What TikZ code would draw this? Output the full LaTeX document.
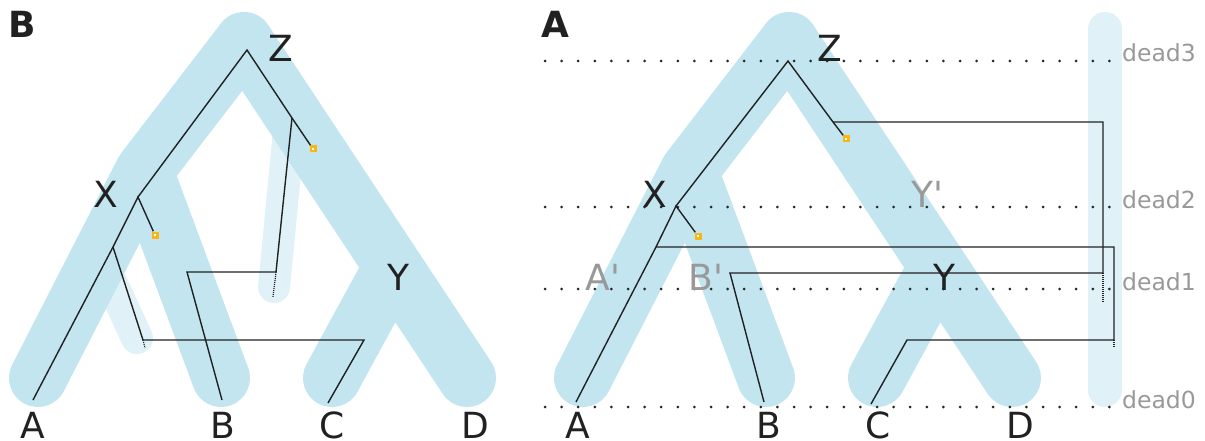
\documentclass[tikz,border=0pt]{standalone}
\usepackage{fontspec}
\setmainfont{DejaVu Sans}
\usepackage{xcolor}

\definecolor{speciesblue}{HTML}{C2E5F0}
\definecolor{lostblue}{HTML}{E0F1F8}
\definecolor{dupyellow}{HTML}{FBB616}
\definecolor{labelgray}{HTML}{999999}

\begin{document}
\begin{tikzpicture}[
    x=1pt, y=-1pt,
    species/.style={speciesblue, line width=58pt, line cap=round, line join=round},
    lost/.style={lostblue, line cap=round},
    gene/.style={black!87, line width=1.4pt},
    loose/.style={black!87, line width=1.2pt, dash pattern=on 1pt off 1pt},
    deadline/.style={black!85, line width=3pt, line cap=round, dash pattern=on 0pt off 16.6pt},
    dup/.style={fill=dupyellow, inner sep=0pt, minimum size=7pt,
        path picture={\fill[white] ([shift={(-1pt,-0.8pt)}]path picture bounding box.center)
            rectangle ([shift={(1pt,0.8pt)}]path picture bounding box.center);}},
    big/.style={font=\fontsize{36}{36}\selectfont, text=black!87, anchor=base, inner sep=0pt},
    leaf/.style={big, text depth=0pt},
    ghost/.style={big, text=labelgray},
    dead/.style={font=\fontsize{23.5}{24}\selectfont, text=labelgray, anchor=base west, inner sep=0pt}
]
    \useasboundingbox (0,0) rectangle (1205,441);

    % Lost lineages
    \draw[lost, line width=32pt] (100,258) -- (137,338);
    \draw[lost, line width=32pt] (292,100) -- (274,287);
    \draw[lost, line width=34pt] (1105,29) -- (1105,390);

    % Species tree, panel B
    \coordinate (bZ) at (244,41);
    \coordinate (bX) at (144,171);
    \coordinate (bY) at (393,266);
    \coordinate (bA) at (38,378);
    \coordinate (bB) at (221,378);
    \coordinate (bC) at (332,378);
    \coordinate (bD) at (467,378);
    \draw[species] (bA) -- (bX) -- (bZ) -- (bD) (bX) -- (bB) (bY) -- (bC);

    % Species tree, panel A
    \coordinate (aZ) at (789,41);
    \coordinate (aX) at (689,171);
    \coordinate (aY) at (938,266);
    \coordinate (aA) at (583,378);
    \coordinate (aB) at (766,378);
    \coordinate (aC) at (877,378);
    \coordinate (aD) at (1012,378);
    \draw[species] (aA) -- (aX) -- (aZ) -- (aD) (aX) -- (aB) (aY) -- (aC);

    % Time levels
    \coordinate (d3s) at (545,61);  \coordinate (d3e) at (1112,61);
    \coordinate (d2s) at (545,207); \coordinate (d2e) at (1112,207);
    \coordinate (d1s) at (545,289); \coordinate (d1e) at (1112,289);
    \coordinate (d0s) at (545,407); \coordinate (d0e) at (1112,407);
    \draw[deadline] (d3s) -- (d3e);
    \draw[deadline] (d2s) -- (d2e);
    \draw[deadline] (d1s) -- (d1e);
    \draw[deadline] (d0s) -- (d0e);
    \node[dead] (dead3) at (1122,62) {dead3};
    \node[dead] (dead2) at (1122,208) {dead2};
    \node[dead] (dead1) at (1122,290) {dead1};
    \node[dead] (dead0) at (1122,408) {dead0};

    % Gene tree, panel B
    \coordinate (bg0) at (247,50);
    \coordinate (bg1) at (138,197);
    \coordinate (bg2) at (113,247);
    \coordinate (bg3) at (292,118);
    \coordinate (bg4) at (276,272);
    \coordinate (bg4e) at (273,297);
    \coordinate (bg5) at (187,272);
    \coordinate (bg6) at (143,340);
    \coordinate (bg6e) at (145,348);
    \coordinate (bg7) at (364,340);
    \coordinate (bgA) at (33,400);
    \coordinate (bgB) at (222,400);
    \coordinate (bgC) at (328,403);
    \node[dup] (bdx) at (155,235) {};
    \node[dup] (bdz) at (313,149) {};
    \draw[gene] (bg1) -- (bg0) -- (bg3) -- (bdz);
    \draw[gene] (bg3) -- (bg4) -- (bg5) -- (bgB);
    \draw[gene] (bdx) -- (bg1) -- (bg2) -- (bgA);
    \draw[gene] (bg2) -- (bg6) -- (bg7) -- (bgC);
    \draw[loose] (bg4) -- (bg4e);
    \draw[loose] (bg6) -- (bg6e);

    % Gene tree, panel A
    \coordinate (ag0) at (788,61);
    \coordinate (ag1) at (676,206);
    \coordinate (ag2) at (656,247);
    \coordinate (ag3) at (833,122);
    \coordinate (ag3r) at (1103,122);
    \coordinate (ag4) at (1103,273);
    \coordinate (ag4e) at (1103,302);
    \coordinate (ag5) at (730,273);
    \coordinate (ag6) at (1114,247);
    \coordinate (ag6b) at (1114,340);
    \coordinate (ag6e) at (1114,348);
    \coordinate (ag7) at (907,340);
    \coordinate (agA) at (576,402);
    \coordinate (agB) at (764,402);
    \coordinate (agC) at (871,404);
    \node[dup] (adx) at (698,236) {};
    \node[dup] (adz) at (846,139) {};
    \draw[gene] (ag1) -- (ag0) -- (ag3) -- (adz);
    \draw[gene] (ag3) -- (ag3r) -- (ag4) -- (ag5) -- (agB);
    \draw[gene] (adx) -- (ag1) -- (ag2) -- (agA);
    \draw[gene] (ag2) -- (ag6) -- (ag6b) -- (ag7) -- (agC);
    \draw[loose] (ag4) -- (ag4e);
    \draw[loose] (ag6b) -- (ag6e);

    % Labels, panel B
    \node[big] (panelB) at (22,38) {\textbf{B}};
    \node[big] (bZl) at (281,62) {Z};
    \node[big] (bXl) at (106,207) {X};
    \node[big] (bYl) at (398,290) {Y};
    \node[leaf] (bAl) at (33,438) {A};
    \node[leaf] (bBl) at (223,438) {B};
    \node[leaf] (bCl) at (332,438) {C};
    \node[leaf] (bDl) at (475,438) {D};

    % Labels, panel A
    \node[big] (panelA) at (555,38) {\textbf{A}};
    \node[big] (aZl) at (830,62) {Z};
    \node[big] (aXl) at (655,207) {X};
    \node[big] (aYl) at (944,290) {Y};
    \node[ghost] (aYp) at (927,207) {Y\textquotesingle};
    \node[ghost] (aAp) at (603,290) {A\textquotesingle};
    \node[ghost] (aBp) at (706,290) {B\textquotesingle};
    \node[leaf] (aAl) at (578,438) {A};
    \node[leaf] (aBl) at (769,438) {B};
    \node[leaf] (aCl) at (878,438) {C};
    \node[leaf] (aDl) at (1020,438) {D};
\end{tikzpicture}
\end{document}
